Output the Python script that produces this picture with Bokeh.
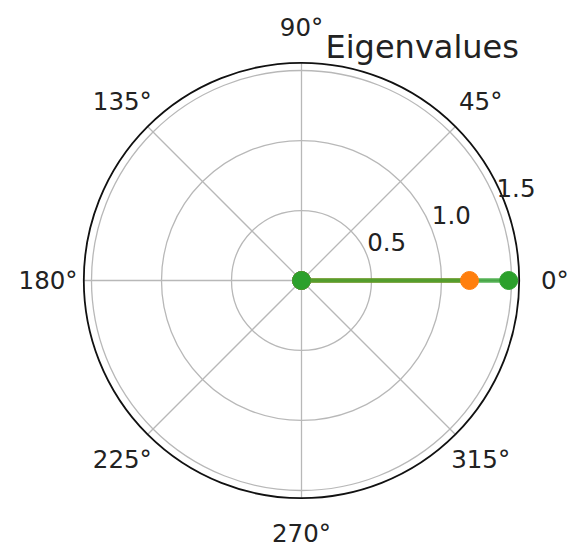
import numpy as np
from bokeh.plotting import figure
from bokeh.models import Range1d
from bokeh.core.properties import value
from bokeh.embed import file_html
from bokeh.resources import INLINE

# Eigenvalues plotted as radial segments at angle 0
series_names = ["λ1", "λ2", "λ3"]
eigenvalues = [0.0, 1.20, 1.48]
eigen_angles_deg = [0.0, 0.0, 0.0]
series_colors = ["#1f77b4", "#ff7f0e", "#2ca02c"]

# Polar axes settings
r_max = 1.555
r_ticks = [0.5, 1.0, 1.5]
r_tick_labels = ["0.5", "1.0", "1.5"]
theta_ticks_deg = [0, 45, 90, 135, 180, 225, 270, 315]
theta_tick_labels = ["0°", "45°", "90°", "135°", "180°", "225°", "270°", "315°"]
r_label_angle_deg = 22.5
title_text = "Eigenvalues"

W, H = 570, 548
scale = 140.0          # pixels per radial unit
cx, cy = 301, 280      # pixel position of the pole

p = figure(width=W, height=H, output_backend="svg", toolbar_location=None,
           x_axis_type=None, y_axis_type=None, min_border=0,
           x_range=Range1d(-cx / scale, (W - cx) / scale),
           y_range=Range1d(-(H - cy) / scale, cy / scale))
p.grid.visible = False
p.outline_line_color = None
p.background_fill_color = "white"

grid_color = "#b8b8b8"
text_color = "#222222"
font = value("DejaVu Sans")

# radial grid circles
p.circle(x=[0] * len(r_ticks), y=[0] * len(r_ticks), radius=r_ticks,
         fill_color=None, line_color=grid_color, line_width=1.3)

# angular spokes
th = np.deg2rad(theta_ticks_deg)
p.segment(x0=np.zeros(len(th)), y0=np.zeros(len(th)),
          x1=r_max * np.cos(th), y1=r_max * np.sin(th),
          line_color=grid_color, line_width=1.3)

# outer frame
p.circle(x=[0], y=[0], radius=[r_max], fill_color=None,
         line_color="#111111", line_width=1.8)

# angle labels
r_lab = 1.81
p.text(x=r_lab * np.cos(th), y=r_lab * np.sin(th), text=theta_tick_labels,
       text_align="center", text_baseline="middle", text_font=font,
       text_font_size="24.5px", text_color=text_color)

# radial labels
ra = np.deg2rad(r_label_angle_deg)
p.text(x=[r * np.cos(ra) for r in r_ticks], y=[r * np.sin(ra) for r in r_ticks],
       text=r_tick_labels, text_align="left", text_baseline="bottom",
       x_offset=1, y_offset=-3, text_font=font, text_font_size="24.5px",
       text_color=text_color)

# eigenvalue segments from the pole
for lam, ang, col in zip(eigenvalues, eigen_angles_deg, series_colors):
    a = np.deg2rad(ang)
    p.line(x=[0, lam * np.cos(a)], y=[0, lam * np.sin(a)],
           line_color=col, line_width=4.5, line_alpha=0.8)
for lam, ang, col in zip(eigenvalues, eigen_angles_deg, series_colors):
    a = np.deg2rad(ang)
    p.scatter(x=[0, lam * np.cos(a)], y=[0, lam * np.sin(a)], size=18,
              fill_color=col, line_color=col)

# title
p.text(x=[(325 - cx) / scale], y=[(cy - 46) / scale], text=[title_text],
       text_align="left", text_baseline="alphabetic", text_font=font,
       text_font_size="32px", text_color=text_color)

open("out.html", "w").write(file_html(p, INLINE))
